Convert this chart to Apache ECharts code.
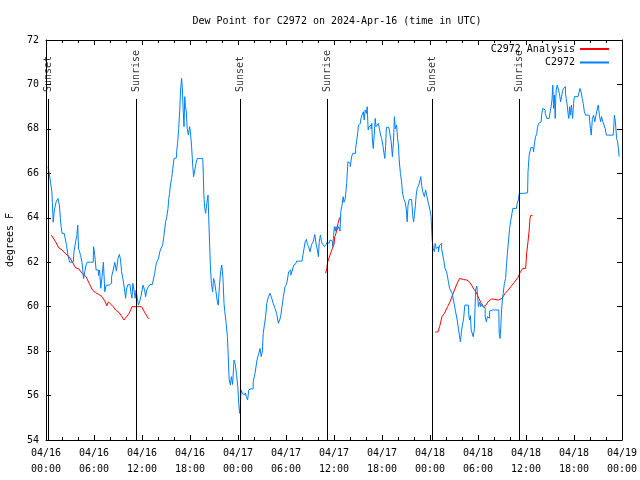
<!DOCTYPE html>
<html>
<head>
<meta charset="utf-8">
<script src="https://cdn.jsdelivr.net/npm/echarts@6/dist/echarts.min.js"></script>
<style>html,body{margin:0;padding:0;background:#fff}#c{width:640px;height:480px}</style>
</head>
<body>
<div id="c"></div>
<script>
// x values are hours since 2024-04-16 00:00 UTC
const xTickLabels = ['04/16\n00:00','04/16\n06:00','04/16\n12:00','04/16\n18:00','04/17\n00:00','04/17\n06:00','04/17\n12:00','04/17\n18:00','04/18\n00:00','04/18\n06:00','04/18\n12:00','04/18\n18:00','04/19\n00:00'];
const sunHours = [0.27, 11.29, 24.29, 35.2, 48.29, 59.16];
const sunLabels = ['Sunset','Sunrise','Sunset','Sunrise','Sunset','Sunrise'];

const c2972Analysis = [
 [0.67,63.22],[0.9,63.2],[1.2,62.92],[1.6,62.65],[2.0,62.55],[2.4,62.4],[2.9,62.25],[3.3,62.0],[3.7,61.75],[4.1,61.7],[4.5,61.5],[5.0,61.35],[5.4,61.05],[5.8,60.75],[6.2,60.63],[6.6,60.55],[7.0,60.45],[7.4,60.22],[7.6,60.04],[7.8,60.22],[8.0,60.22],[8.4,60.0],[8.7,59.85],[9.1,59.75],[9.4,59.6],[9.75,59.4],[10.0,59.45],[10.4,59.7],[10.75,60.0],[11.95,60.0],[12.4,59.7],[12.8,59.47],[12.9,59.47],
 null,
 [34.96,61.5],[35.1,61.72],[35.2,62.0],[35.5,62.32],[35.8,62.62],[36.0,62.8],[36.1,63.15],[36.25,63.3],[36.5,63.75],[36.7,64.0],[36.8,64.0],
 null,
 [48.67,58.85],[49.0,58.87],[49.2,59.1],[49.5,59.55],[49.8,59.7],[50.2,60.0],[50.5,60.22],[50.9,60.6],[51.3,60.97],[51.5,61.12],[51.7,61.27],[52.2,61.22],[52.6,61.2],[52.9,61.12],[53.2,60.97],[53.5,60.78],[53.8,60.63],[54.1,60.38],[54.4,60.15],[54.7,60.0],[55.0,60.07],[55.25,60.22],[55.7,60.35],[56.6,60.3],[57.0,60.38],[57.4,60.6],[57.7,60.72],[58.1,60.9],[58.5,61.08],[59.0,61.32],[59.3,61.57],[59.6,61.72],[59.96,61.72],[60.08,62.4],[60.25,62.92],[60.4,63.45],[60.5,63.97],[60.58,64.1],[60.8,64.1]
];

const c2972Obs = [
 [0.25,66.3],[0.5,66.07],[0.67,65.55],[0.8,65.17],[1.0,63.8],[1.1,64.35],[1.4,64.7],[1.6,64.87],[1.75,64.57],[1.83,63.97],[1.96,63.6],[2.04,63.3],[2.5,63.3],[2.6,62.8],[2.9,62.3],[3.0,62.0],[3.4,62.0],[3.6,62.47],[3.8,62.92],[3.9,63.2],[4.04,63.67],[4.1,62.6],[4.25,62.5],[4.4,62.3],[4.6,62.0],[4.8,61.27],[4.9,61.57],[5.1,61.87],[5.25,62.0],[5.9,62.0],[6.0,62.7],[6.2,62.3],[6.33,61.65],[6.5,61.65],[6.6,61.4],[6.8,61.65],[6.9,60.83],[7.1,61.35],[7.25,62.0],[7.45,60.67],[7.6,60.97],[7.9,60.97],[8.1,61.05],[8.3,61.35],[8.5,61.65],[8.7,62.0],[8.9,61.6],[9.1,62.17],[9.25,62.35],[9.4,62.1],[9.5,61.57],[9.7,61.27],[9.9,60.83],[10.0,60.38],[10.1,60.75],[10.3,60.97],[10.5,61.0],[10.7,60.67],[10.8,60.38],[10.9,61.05],[11.1,60.75],[11.2,60.38],[11.33,60.75],[11.5,60.38],[11.6,60.07],[11.8,60.22],[12.0,60.52],[12.25,60.97],
 [12.4,60.75],[12.5,60.45],[12.7,60.75],[12.9,60.9],[13.1,61.0],[13.5,61.0],[13.67,61.5],[13.75,61.8],[13.9,62.0],[14.2,62.15],[14.25,62.47],[14.46,62.6],[14.7,62.77],[14.75,63.15],[14.9,63.45],[15.0,63.82],[15.2,64.05],[15.3,64.42],[15.4,64.87],[15.5,65.1],[15.6,65.47],[15.8,65.77],[15.9,66.22],[16.1,66.67],[16.25,66.7],[16.4,66.97],[16.5,67.35],[16.67,68.02],[16.75,68.77],[16.9,69.75],[17.0,70.27],[17.1,69.75],[17.2,68.85],[17.3,68.1],[17.4,69.45],[17.45,69.0],[17.6,68.85],[17.7,68.02],[17.9,67.72],[18.0,68.1],[18.1,67.87],[18.3,67.2],[18.4,66.3],[18.5,65.85],[18.7,66.15],[18.8,66.45],[19.04,66.67],[19.6,66.67],[19.7,66.15],[19.75,65.1],[19.9,64.5],[20.0,64.2],[20.2,64.65],[20.3,65.02],[20.4,63.9],[20.5,62.85],[20.6,61.8],[20.75,61.05],[20.9,60.67],[21.0,61.27],[21.2,61.05],[21.3,60.67],[21.46,60.3],[21.6,60.07],[21.75,60.9],[21.9,61.57],[22.04,61.87],[22.2,61.3],[22.3,60.15],[22.4,59.77],[22.6,59.32],[22.75,58.65],[22.8,57.82],[23.0,56.7],[23.1,56.47],[23.25,56.85],[23.4,56.5],[23.6,57.6],[23.75,57.4],[23.9,56.9],[24.05,56.4],[24.15,55.6],[24.25,55.2],[24.3,55.45],
 [24.5,56.25],[24.6,56.1],[24.8,56.02],[25.0,56.12],[25.1,55.95],[25.3,55.8],[25.4,56.25],[25.6,56.3],[25.8,56.3],[26.0,56.62],[26.25,57.0],[26.5,57.6],[26.7,57.9],[26.8,58.12],[27.0,57.75],[27.1,58.0],[27.2,58.8],[27.4,59.17],[27.5,59.55],[27.7,60.15],[27.9,60.45],[28.1,60.6],[28.3,60.4],[28.5,60.15],[28.75,59.92],[28.9,59.7],[29.2,59.25],[29.3,59.45],[29.4,59.6],[29.6,60.0],[29.75,60.45],[30.0,60.9],[30.1,61.0],[30.25,61.2],[30.4,61.57],[30.5,61.65],[30.7,61.42],[30.9,61.65],[31.04,61.87],[31.25,61.95],[31.4,62.05],[32.0,62.05],[32.3,62.4],[32.5,62.92],[32.6,63.03],[32.75,62.8],[32.9,62.7],[33.1,62.47],[33.3,62.8],[33.5,62.92],[33.7,63.25],[33.8,62.85],[34.0,62.6],[34.1,62.25],[34.2,62.9],[34.4,63.22],[34.5,62.9],[34.7,62.8],[34.9,62.7],[35.1,62.8],[35.2,62.9],[35.4,62.85],[35.6,63.0],[35.8,62.95],[35.9,62.7],[36.0,63.2],
 [36.1,63.6],[36.2,63.4],[36.3,63.6],[36.5,63.45],[36.7,63.6],[36.8,63.4],[36.9,64.27],[37.1,64.57],[37.2,64.95],[37.3,64.7],[37.5,64.85],[37.67,65.55],[37.8,66.52],[37.96,66.45],[38.1,66.3],[38.3,66.75],[38.4,66.9],[38.6,66.9],[38.8,67.12],[38.96,67.57],[39.0,67.87],[39.1,68.17],[39.25,68.25],[39.4,68.4],[39.6,68.62],[39.75,68.77],[39.8,68.4],[40.0,68.85],[40.1,68.7],[40.2,69.0],[40.25,68.32],[40.3,67.95],[40.45,68.1],[40.6,68.17],[40.7,68.0],[40.75,68.25],[40.85,67.5],[40.96,67.12],[41.1,67.72],[41.2,68.47],[41.3,68.1],[41.5,68.17],[41.6,68.25],[41.75,68.0],[41.9,67.72],[42.0,67.57],[42.2,67.27],[42.3,66.9],[42.4,66.67],[42.5,67.2],[42.6,68.07],[43.1,68.07],[43.2,67.42],[43.4,66.75],[43.5,67.5],[43.6,68.55],[43.75,68.0],[43.9,68.17],[44.0,67.57],[44.1,67.27],[44.2,66.6],[44.4,66.0],[44.5,65.62],[44.6,65.17],[44.8,64.87],[45.0,64.7],[45.1,64.35],[45.2,63.82],[45.3,64.57],[45.5,64.82],[45.7,64.82],[45.8,64.57],[45.9,64.05],[46.0,63.82],[46.1,64.1],[46.25,64.57],[46.3,65.02],[46.5,65.32],[46.7,65.47],[46.8,65.7],[46.9,65.85],[47.0,65.47],[47.2,65.17],[47.4,64.95],[47.5,65.25],[47.7,65.0],[47.9,64.65],[48.1,64.35],[48.17,64.05],
 [48.25,63.45],[48.3,63.0],[48.5,62.62],[48.6,62.47],[48.7,62.85],[48.85,62.62],[49.0,62.7],[49.1,62.47],[49.3,62.77],[49.4,62.85],[49.5,62.62],[49.7,62.32],[49.8,62.02],[49.96,61.72],[50.2,61.57],[50.4,61.12],[50.5,60.82],[50.7,60.9],[50.85,60.6],[51.0,60.3],[51.1,60.07],[51.3,59.77],[51.5,59.4],[51.6,59.02],[51.75,58.72],[51.85,58.42],[52.0,58.85],[52.1,59.17],[52.3,59.45],[52.4,60.07],[52.8,60.07],[52.9,59.6],[53.0,59.4],[53.1,59.6],[53.2,58.95],[53.3,59.0],[53.5,58.65],[53.6,59.0],[53.8,60.75],[53.9,60.93],[54.0,60.5],[54.1,60.0],[54.3,60.2],[54.4,60.0],[54.5,60.15],[54.7,60.0],[54.8,59.95],[55.0,59.55],[55.1,59.32],[55.25,59.55],[55.4,59.48],[55.5,59.8],[55.8,59.85],[56.6,59.85],[56.7,58.8],[56.8,58.57],[56.9,59.1],[57.0,59.85],[57.1,60.3],[57.2,60.6],[57.4,61.05],[57.5,61.27],[57.6,61.8],[57.75,62.4],[57.9,63.0],[58.0,63.52],[58.2,63.9],[58.3,64.2],[58.4,64.42],[58.8,64.42],[59.0,64.65],[59.1,64.8],
 [59.2,65.1],[60.2,65.12],[60.3,66.07],[60.5,66.82],[60.7,67.15],[60.9,67.15],[61.0,66.97],[61.1,67.35],[61.3,67.65],[61.4,67.8],[61.5,68.1],[61.7,68.25],[61.9,68.32],[62.0,68.62],[62.2,68.92],[62.3,68.85],[62.5,68.7],[62.7,68.47],[62.9,68.47],[63.0,68.62],[63.2,68.92],[63.3,69.3],[63.4,69.97],[63.5,68.92],[63.6,69.52],[63.7,68.47],[63.75,69.37],[63.8,69.75],[64.0,69.97],[64.1,69.97],[64.25,69.6],[64.4,69.22],[64.5,69.45],[64.6,69.67],[64.75,69.82],[64.9,69.9],[64.96,69.6],[65.1,69.37],[65.2,69.07],[65.3,68.7],[65.4,68.47],[65.5,69.0],[65.6,68.62],[65.75,69.07],[65.9,68.47],[66.0,69.15],[66.1,69.45],[66.5,69.45],[66.7,69.6],[66.8,69.82],[66.96,69.67],[67.1,69.37],[67.2,69.15],[67.4,68.77],[67.5,68.62],[67.9,68.62],[68.0,68.4],[68.1,68.02],[68.2,67.72],[68.4,68.47],[68.5,68.62],[68.7,68.32],[68.8,68.62],[68.96,68.85],[69.1,69.07],[69.25,68.62],[69.4,68.32],[69.5,68.55],[69.7,68.32],[69.8,68.17],[70.0,68.02],[70.1,67.72],[70.9,67.72],[71.0,67.95],[71.1,68.62],[71.25,68.32],[71.4,67.57],[71.5,67.42],[71.6,67.12],[71.7,66.75]
];

const FONT = 'DejaVu Sans Mono';
const SUN_LINE_TOP = 69.35;   // where the vertical sun lines begin
const SUN_LABEL_BASE = 69.66; // where the rotated sun labels start

const chart = echarts.init(document.getElementById('c'), null, {renderer: 'canvas'});

const axisCommon = {
  type: 'value', min: 0, max: 72, interval: 6,
  axisLine: {show: true, onZero: false, lineStyle: {color: '#000', width: 1}},
  axisTick: {show: true, inside: true, length: 5, lineStyle: {color: '#000'}},
  minorTick: {show: true, splitNumber: 3, length: 3, lineStyle: {color: '#000'}},
  splitLine: {show: false}, minorSplitLine: {show: false}
};
const yCommon = {
  type: 'value', min: 54, max: 72, interval: 2,
  axisLine: {show: true, onZero: false, lineStyle: {color: '#000', width: 1}},
  axisTick: {show: true, inside: true, length: 5, lineStyle: {color: '#000'}},
  splitLine: {show: false}
};

chart.setOption({
  animation: false,
  backgroundColor: '#fff',
  title: {
    text: 'Dew Point for C2972 on 2024-Apr-16 (time in UTC)',
    left: 332, top: 11, textAlign: 'center',
    textStyle: {fontFamily: FONT, fontSize: 10, fontWeight: 'normal', color: '#000'}
  },
  legend: {
    data: ['C2972 Analysis', 'C2972'],
    orient: 'vertical', align: 'right',
    right: 30, top: 44, padding: 0,
    itemWidth: 29, itemHeight: 10, itemGap: 3.5,
    itemStyle: {opacity: 0, borderWidth: 0},
    textStyle: {fontFamily: FONT, fontSize: 10, color: '#000'}
  },
  grid: {left: 46, right: 18, top: 40, bottom: 40, containLabel: false, outerBoundsMode: 'none'},
  xAxis: [
    Object.assign({}, axisCommon, {
      position: 'bottom',
      axisLabel: {
        show: true, margin: 5, fontFamily: FONT, fontSize: 10, color: '#000', lineHeight: 16,
        formatter: v => xTickLabels[Math.round(v / 6)] || ''
      }
    }),
    Object.assign({}, axisCommon, {position: 'top', axisLabel: {show: false}})
  ],
  yAxis: [
    Object.assign({}, yCommon, {
      position: 'left',
      name: 'degrees F', nameLocation: 'middle', nameGap: 31,
      nameTextStyle: {fontFamily: FONT, fontSize: 10, color: '#000'},
      axisLabel: {show: true, margin: 7, fontFamily: FONT, fontSize: 10, color: '#000'}
    }),
    Object.assign({}, yCommon, {position: 'right', axisLabel: {show: false}})
  ],
  series: [
    {
      name: 'sun', type: 'scatter', symbolSize: 0, silent: true,
      data: sunHours.map(h => [h, SUN_LABEL_BASE]),
      label: {
        show: true, position: 'inside', rotate: 90, align: 'left', verticalAlign: 'middle',
        fontFamily: FONT, fontSize: 10, color: '#000',
        formatter: p => sunLabels[p.dataIndex]
      },
      markLine: {
        silent: true, symbol: ['none', 'none'],
        lineStyle: {color: '#000', width: 1, type: 'solid'},
        label: {show: false},
        data: sunHours.map(h => [{coord: [h, SUN_LINE_TOP]}, {coord: [h, 54]}])
      }
    },
    {
      name: 'C2972 Analysis', type: 'line', data: c2972Analysis,
      showSymbol: false, symbol: 'none', connectNulls: false,
      lineStyle: {color: '#ff0000', width: 1}, itemStyle: {color: '#ff0000'}
    },
    {
      name: 'C2972', type: 'line', data: c2972Obs, step: 'middle',
      showSymbol: false, symbol: 'none',
      lineStyle: {color: '#0080ff', width: 1}, itemStyle: {color: '#0080ff'}
    }
  ]
});
</script>
</body>
</html>
